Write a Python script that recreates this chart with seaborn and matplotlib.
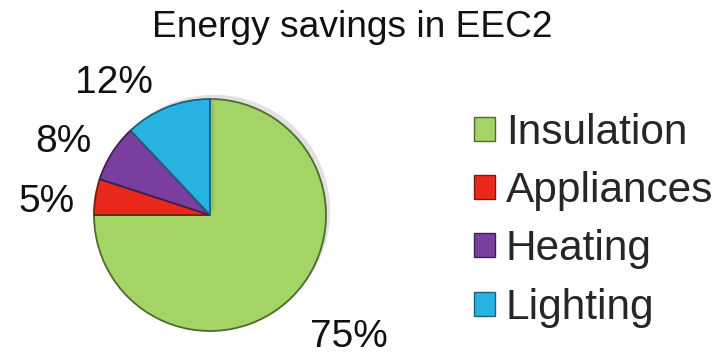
import numpy as np
import matplotlib
matplotlib.use("Agg")
import matplotlib.pyplot as plt
import matplotlib.patheffects as pe
import seaborn as sns

categories = ["Insulation", "Appliances", "Heating", "Lighting"]
values = [75, 5, 8, 12]
pct_labels = ["75%", "5%", "8%", "12%"]
colors = ["#a3d465", "#e8291c", "#7a3f9e", "#27b2e2"]
edge_colors = ["#4f6a2e", "#7a1a12", "#3e2055", "#1d5f7c"]

sns.set_theme(style="white")
plt.rcParams["font.family"] = ["Liberation Sans", "DejaVu Sans"]

W, H = 720, 355
fig = plt.figure(figsize=(W / 100, H / 100), dpi=100)
fig.patch.set_facecolor("white")

cx, cy, r = 210, 215, 116
ax = fig.add_axes([(cx - r) / W, (H - cy - r) / H, 2 * r / W, 2 * r / H])

wedges, texts = ax.pie(
    values, colors=colors, startangle=90, counterclock=False, radius=1.0,
    wedgeprops=dict(linewidth=1.3, edgecolor="#3f4a35"),
)
for w, ec in zip(wedges, edge_colors):
    w.set_edgecolor(ec)
    w.set_path_effects([pe.SimplePatchShadow(offset=(3, 3), shadow_rgbFace="#888888", alpha=0.25),
                        pe.Normal()])

# percentage label anchor positions (layout, in pie-radius units; baseline anchored)
label_pos = [(1.20, -1.14), (-1.41, 0.03), (-1.26, 0.54), (-0.83, 1.05)]
for lab, (lx, ly) in zip(pct_labels, label_pos):
    ax.text(lx, ly, lab, ha="center", va="baseline",
            fontsize=28, color="#111111", clip_on=False)

ax.set_xlim(-1, 1)
ax.set_ylim(-1, 1)
ax.set_aspect("equal")
ax.axis("off")

fig.text(352 / W, 1 - 37 / H, "Energy savings in EEC2", ha="center", va="baseline",
         fontsize=26.7, color="#111111")

leg = fig.legend(wedges, categories, loc="upper left",
                 bbox_to_anchor=(474 / W, 1 - 113 / H), frameon=False,
                 fontsize=30.5, handlelength=0.5, handleheight=0.5,
                 handletextpad=0.25, labelspacing=0.43, borderpad=0, borderaxespad=0)
for h in leg.legend_handles:
    h.set_path_effects([])
    h.set_linewidth(1.0)

fig.savefig("out.png", dpi=100, facecolor="white")
